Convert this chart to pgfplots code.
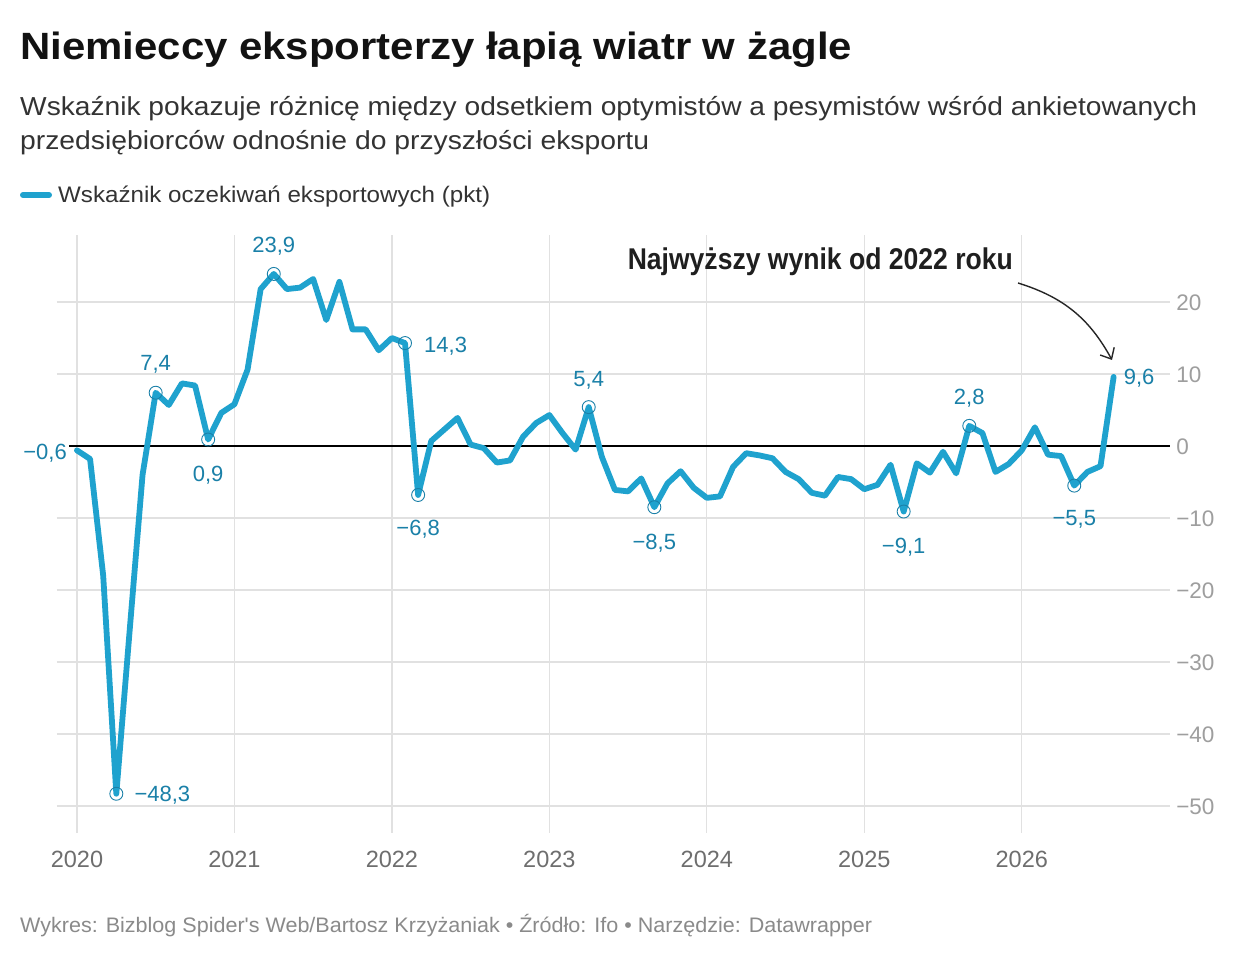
\documentclass[border=0pt]{standalone}
\usepackage{fontspec}
\setmainfont{Liberation Sans}
\newfontfamily\footfont{Liberation Sans}[Ligatures=TeXOff]
\usepackage{graphicx}
\usepackage{pgfplots}
\pgfplotsset{compat=1.18}
\usetikzlibrary{arrows.meta}
\definecolor{linec}{HTML}{1FA2CE}
\definecolor{labc}{HTML}{1A80A8}
\definecolor{gridc}{HTML}{E1E1E1}
\definecolor{ytc}{HTML}{9E9E9E}
\definecolor{xtc}{HTML}{6E6E6E}
\definecolor{subc}{HTML}{333333}
\definecolor{footc}{HTML}{8A8A8A}
\pgfplotstableread{
m v
0 -0.6
1 -1.8
2 -18.0
3 -48.3
4 -26.0
5 -4.0
6 7.4
7 5.7
8 8.7
9 8.4
10 0.9
11 4.6
12 5.8
13 10.6
14 21.8
15 23.9
16 21.8
17 22.0
18 23.2
19 17.5
20 22.8
21 16.2
22 16.2
23 13.3
24 15.0
25 14.3
26 -6.8
27 0.7
28 2.3
29 3.9
30 0.2
31 -0.3
32 -2.3
33 -2.0
34 1.3
35 3.2
36 4.3
37 1.8
38 -0.5
39 5.4
40 -1.5
41 -6.1
42 -6.3
43 -4.5
44 -8.5
45 -5.2
46 -3.5
47 -5.8
48 -7.2
49 -7.0
50 -2.9
51 -1.0
52 -1.3
53 -1.7
54 -3.6
55 -4.6
56 -6.5
57 -6.9
58 -4.3
59 -4.6
60 -6.0
61 -5.4
62 -2.6
63 -9.1
64 -2.4
65 -3.7
66 -0.8
67 -3.8
68 2.8
69 1.8
70 -3.6
71 -2.5
72 -0.6
73 2.6
74 -1.2
75 -1.4
76 -5.5
77 -3.6
78 -2.8
79 9.6
}\datatable
\pgfplotstableread{
m v
3 -48.3
6 7.4
10 0.9
15 23.9
25 14.3
26 -6.8
39 5.4
44 -8.5
63 -9.1
68 2.8
76 -5.5
}\marktable
\newcommand{\lab}{\fontsize{22}{22}\selectfont\color{labc}}
\begin{document}
\begin{tikzpicture}
\fill[white] (0pt,0pt) rectangle (1240pt,960pt);
\useasboundingbox (0pt,0pt) rectangle (1240pt,960pt);
% title and subtitle
\node[anchor=base west, inner sep=0] at (20pt,900pt) {\resizebox{832pt}{\height}{\fontsize{38}{40}\selectfont\bfseries\color{black!93}Niemieccy eksporterzy łapią wiatr w żagle}};
\node[anchor=base west, inner sep=0] at (20pt,844pt) {\resizebox{1177pt}{\height}{\fontsize{26}{28}\selectfont\color{subc}Wskaźnik pokazuje różnicę między odsetkiem optymistów a pesymistów wśród ankietowanych}};
\node[anchor=base west, inner sep=0] at (20pt,810pt) {\resizebox{629pt}{\height}{\fontsize{26}{28}\selectfont\color{subc}przedsiębiorców odnośnie do przyszłości eksportu}};
% legend
\draw[linec, line width=6pt, line cap=round] (23pt,765pt) -- (49pt,765pt);
\node[anchor=base west, inner sep=0] at (58pt,757pt) {\resizebox{432pt}{\height}{\fontsize{22.5}{24}\selectfont\color{subc}Wskaźnik oczekiwań eksportowych (pkt)}};
% footer
\node[anchor=base west, inner sep=0] at (20pt,27pt) {\resizebox{852pt}{\height}{\footfont\fontsize{21}{22}\selectfont\color{footc}Wykres: Bizblog Spider's Web/Bartosz Krzyżaniak • Źródło: Ifo • Narzędzie: Datawrapper}};
\begin{axis}[
  at={(57pt,127pt)}, anchor=south west, scale only axis,
  width=1113pt, height=598pt,
  xmin=-1.52, xmax=83.3, ymin=-53.75, ymax=29.31,
  clip=false,
  axis line style={draw=none},
  major tick length=0pt,
  xtick={0,12,24,36,48,60,72},
  xticklabels={2020,2021,2022,2023,2024,2025,2026},
  ytick={-50,-40,-30,-20,-10,0,10,20},
  yticklabels={−50,−40,−30,−20,−10,0,10,20},
  yticklabel pos=right,
  xmajorgrids, ymajorgrids,
  grid style={gridc, line width=1.3pt},
  xticklabel style={anchor=base, inner sep=0pt, yshift=-35pt, font=\fontsize{23.5}{24}\selectfont, text=xtc},
  yticklabel style={anchor=west, inner sep=0pt, xshift=6pt, yshift=-1pt, font=\fontsize{22.5}{24}\selectfont, text=ytc},
]
\addplot[black, line width=1.6pt] coordinates {(-1.52,0) (83.3,0)};
\addplot[linec, line width=5.8pt, line join=round, line cap=round] table[x=m, y=v] {\datatable};
\addplot[only marks, mark=o, mark size=6.5pt, mark options={draw=labc, line width=0.9pt}] table[x=m, y=v] {\marktable};
\node[anchor=base east, inner sep=2pt, fill=white] at (axis cs:0,-0.6) [xshift=-8pt, yshift=-9pt] {\lab −0,6};
\node[anchor=base west, inner sep=0pt] at (axis cs:3,-48.3) [xshift=18pt, yshift=-8pt] {\lab −48,3};
\node[anchor=base, inner sep=0pt] at (axis cs:6,7.4) [yshift=22pt] {\lab 7,4};
\node[anchor=base, inner sep=0pt] at (axis cs:10,0.9) [yshift=-42pt] {\lab 0,9};
\node[anchor=base, inner sep=0pt] at (axis cs:15,23.9) [yshift=21pt] {\lab 23,9};
\node[anchor=base west, inner sep=0pt] at (axis cs:25,14.3) [xshift=19pt, yshift=-9pt] {\lab 14,3};
\node[anchor=base, inner sep=0pt] at (axis cs:26,-6.8) [yshift=-41pt] {\lab −6,8};
\node[anchor=base, inner sep=0pt] at (axis cs:39,5.4) [yshift=21pt] {\lab 5,4};
\node[anchor=base, inner sep=0pt] at (axis cs:44,-8.5) [yshift=-42pt] {\lab −8,5};
\node[anchor=base, inner sep=0pt] at (axis cs:63,-9.1) [yshift=-42pt] {\lab −9,1};
\node[anchor=base, inner sep=0pt] at (axis cs:68,2.8) [yshift=21pt] {\lab 2,8};
\node[anchor=base, inner sep=0pt] at (axis cs:76,-5.5) [yshift=-40pt] {\lab −5,5};
\node[anchor=base west, inner sep=0pt] at (axis cs:79,9.6) [xshift=10pt, yshift=-8pt] {\lab 9,6};
\end{axis}
% annotation
\node[anchor=base east, inner sep=0] at (1013pt,690pt) {\resizebox{385pt}{\height}{\fontsize{30}{32}\selectfont\bfseries\color{black!88}Najwyższy wynik od 2022 roku}};
\draw[-{Straight Barb[length=9pt,width=16pt]}, black!85, line width=1.4pt] (1018pt,677pt) to[bend left=22] (1112pt,600pt);
\end{tikzpicture}
\end{document}
